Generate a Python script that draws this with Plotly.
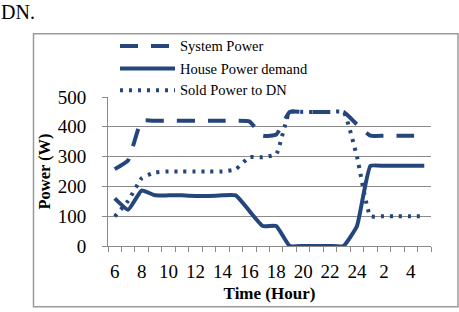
import plotly.graph_objects as go

hours = ["6","7","8","9","10","11","12","13","14","15","16","17","18","19","20","21","22","23","24","1","2","3","4","5"]
system_power = [258, 288, 420, 420, 420, 420, 420, 420, 420, 420, 418, 370, 374, 450, 450, 450, 450, 450, 408, 370, 370, 370, 370, 370]
house_demand = [160, 122, 186, 170, 170, 170, 168, 168, 170, 170, 118, 67, 67, 0, 0, 0, 0, 0, 67, 269, 269, 269, 269, 269]
sold_power = [99, 152, 227, 247, 250, 250, 250, 250, 250, 258, 298, 298, 308, 450, 450, 450, 450, 450, 300, 100, 100, 100, 100, 100]
y_ticks = [0, 100, 200, 300, 400, 500]
series_names = ["System Power", "House Power demand", "Sold Power to DN"]

idx = list(range(len(hours)))
col = "#24467C"
font = "Liberation Serif, Times New Roman, serif"

styles = [dict(width=4, dash="18px,13px"), dict(width=4, dash="solid"), dict(width=4, dash="3px,6px")]
series = [system_power, house_demand, sold_power]

fig = go.Figure()
for name, vals, st in zip(series_names, series, styles):
    fig.add_trace(go.Scatter(x=idx, y=vals, mode="lines", name=name, showlegend=False,
                             line=dict(color=col, width=st["width"], dash=st["dash"],
                                       shape="spline", smoothing=0.4)))

W, H = 459, 312
L, R, T, B = 108, 431, 97, 249
pw, ph = R - L, B - T

def px_x(p):
    return (p - L) / pw

def px_y(p):
    return (B - p) / ph

shapes = [dict(type="rect", xref="paper", yref="paper",
               x0=px_x(33.5), x1=px_x(458), y0=px_y(311), y1=px_y(32.5),
               line=dict(color="#9a9a9a", width=1.5), fillcolor="rgba(0,0,0,0)", layer="below")]
annotations = [dict(text="DN.", xref="paper", yref="paper", x=px_x(-1), y=px_y(-3),
                    xanchor="left", yanchor="top", showarrow=False,
                    font=dict(size=20, family=font, color="black"))]
leg_y = [45, 68, 90]
for name, st, yy in zip(series_names, styles, leg_y):
    shapes.append(dict(type="line", xref="paper", yref="paper",
                       x0=px_x(120), x1=px_x(175), y0=px_y(yy), y1=px_y(yy),
                       line=dict(color=col, width=st["width"], dash=st["dash"])))
    annotations.append(dict(text=name, xref="paper", yref="paper", x=px_x(178), y=px_y(yy),
                            xanchor="left", yanchor="middle", showarrow=False,
                            font=dict(size=14.5, family=font, color="black")))

fig.update_layout(
    width=W, height=H,
    margin=dict(l=L, r=W - R, t=T, b=H - B),
    paper_bgcolor="white", plot_bgcolor="white",
    font=dict(family=font, color="black"),
    showlegend=False,
    xaxis=dict(range=[-0.5, len(hours) - 0.5], tickvals=idx[::2], ticktext=hours[::2],
               ticks="", showgrid=False, zeroline=False,
               showline=True, linecolor="#8a8a8a", linewidth=1,
               tickfont=dict(size=19, family=font), ticklabelstandoff=8,
               minor=dict(ticks="outside", dtick=1, tick0=-0.5, ticklen=5, tickcolor="#8a8a8a", showgrid=False),
               title=dict(text="<b>Time (Hour)</b>", font=dict(size=17, family=font), standoff=6)),
    yaxis=dict(range=[0, 500], tickvals=y_ticks, ticks="outside", ticklen=5, tickcolor="#8a8a8a",
               showgrid=True, gridcolor="#8a8a8a", gridwidth=1, zeroline=False,
               showline=True, linecolor="#8a8a8a", linewidth=1,
               tickfont=dict(size=19, family=font), ticklabelstandoff=12,
               title=dict(text="<b>Power (W)</b>", font=dict(size=16.5, family=font), standoff=2)),
    shapes=shapes,
    annotations=annotations,
)

fig.write_html("out.html", config={"displayModeBar": False},
               post_script="document.body.style.margin='0';document.body.style.overflow='hidden';")
